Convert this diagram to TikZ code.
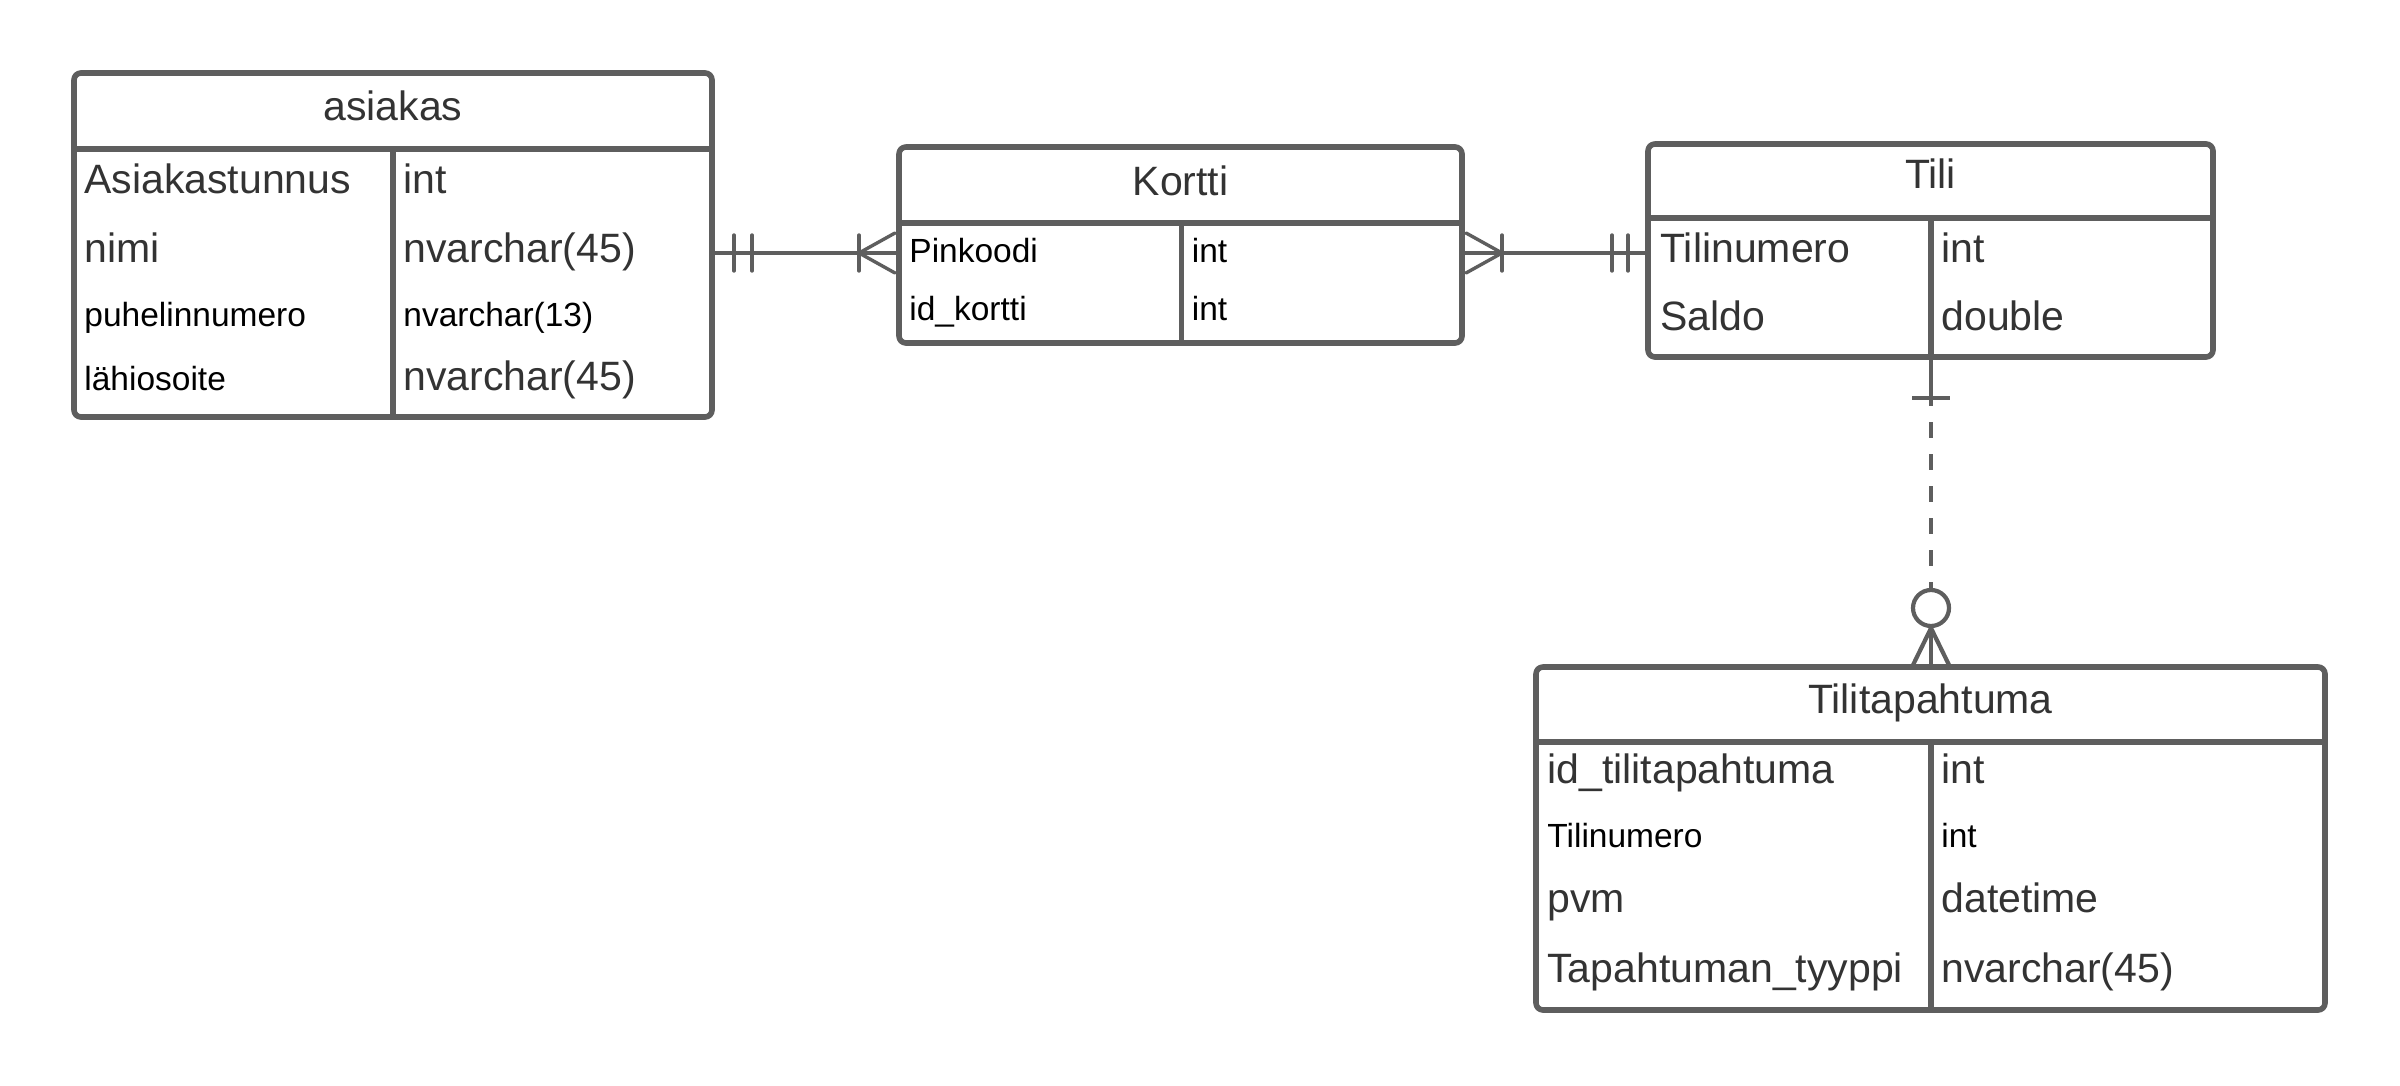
\documentclass[tikz,border=0pt]{standalone}
\usepackage{fontspec}
\setmainfont{Liberation Sans}
\definecolor{linec}{HTML}{5E5E5E}
\definecolor{txtc}{HTML}{333333}

\begin{document}
\begin{tikzpicture}[line cap=round,line join=round,x=0.5pt,y=-0.5pt,
  tbl/.style={draw=linec,line width=2.8pt,rounded corners=3.5pt},
  rule/.style={draw=linec,line width=2.8pt,line cap=butt},
  rel/.style={draw=linec,line width=1.7pt},
  relv/.style={draw=linec,line width=2.1pt},
  ring/.style={circle,draw=linec,line width=2.1pt,minimum size=18pt,inner sep=0pt},
  big/.style={text=txtc,font=\fontsize{20.5}{24}\selectfont,inner sep=0pt,anchor=base west},
  small/.style={text=black,font=\fontsize{16.75}{20}\selectfont,inner sep=0pt,anchor=base west},
  head/.style={big,anchor=base}]
\useasboundingbox (0,0) rectangle (2400,1086);

% asiakas
\begin{scope}[shift={(74,73)}]
\draw[tbl] (0,0) rectangle (638,344);
\draw[rule] (0,76)--(638,76);
\draw[rule] (319,76)--(319,344);
\node[head] (asiakasH) at (319,47) {asiakas};
\node[big] (a1) at (10,120) {Asiakastunnus};
\node[big] (a1t) at (329,120) {int};
\node[big] (a2) at (10,189) {nimi};
\node[big] (a2t) at (329,189) {nvarchar(45)};
\node[small] (a3) at (10,253) {puhelinnumero};
\node[small] (a3t) at (329,253) {nvarchar(13)};
\node[small] (a4) at (10,317) {lähiosoite};
\node[big] (a4t) at (329,317) {nvarchar(45)};
\coordinate (asiakas-e) at (638,180);
\end{scope}

% Kortti
\begin{scope}[shift={(899,147)}]
\draw[tbl] (0,0) rectangle (563,196);
\draw[rule] (0,76)--(563,76);
\draw[rule] (282.5,76)--(282.5,196);
\node[head] (korttiH) at (281.5,48) {Kortti};
\node[small] (k1) at (10,115) {Pinkoodi};
\node[small] (k1t) at (292.5,115) {int};
\node[small] (k2) at (10,173) {id\_kortti};
\node[small] (k2t) at (292.5,173) {int};
\coordinate (kortti-w) at (0,106);
\coordinate (kortti-e) at (563,106);
\end{scope}

% Tili
\begin{scope}[shift={(1648,144)}]
\draw[tbl] (0,0) rectangle (565,213);
\draw[rule] (0,74)--(565,74);
\draw[rule] (283,74)--(283,213);
\node[head] (tiliH) at (282.5,45) {Tili};
\node[big] (t1) at (12,118) {Tilinumero};
\node[big] (t1t) at (293,118) {int};
\node[big] (t2) at (12,186) {Saldo};
\node[big] (t2t) at (293,186) {double};
\coordinate (tili-w) at (0,109);
\coordinate (tili-s) at (283,213);
\end{scope}

% Tilitapahtuma
\begin{scope}[shift={(1536,667)}]
\draw[tbl] (0,0) rectangle (789,343);
\draw[rule] (0,75)--(789,75);
\draw[rule] (395,75)--(395,343);
\node[head] (tapH) at (394.5,46) {Tilitapahtuma};
\node[big] (p1) at (11,116) {id\_tilitapahtuma};
\node[big] (p1t) at (405,116) {int};
\node[small] (p2) at (11,180) {Tilinumero};
\node[small] (p2t) at (405,180) {int};
\node[big] (p3) at (11,245) {pvm};
\node[big] (p3t) at (405,245) {datetime};
\node[big] (p4) at (11,315) {Tapahtuman\_tyyppi};
\node[big] (p4t) at (405,315) {nvarchar(45)};
\coordinate (tap-n) at (395,0);
\end{scope}

% asiakas -- Kortti
\draw[rel] (asiakas-e) -- (kortti-w);
\begin{scope}[shift={(asiakas-e)}]
\draw[rel] (22,-18)--(22,18) (40,-18)--(40,18);
\end{scope}
\begin{scope}[shift={(kortti-w)}]
\draw[rel] (-40,-18)--(-40,18);
\draw[rel] (-4,-20)--(-40,0)--(-4,20);
\end{scope}

% Kortti -- Tili
\draw[rel] (kortti-e) -- (tili-w);
\begin{scope}[shift={(kortti-e)}]
\draw[rel] (40,-18)--(40,18);
\draw[rel] (4,-20)--(40,0)--(4,20);
\end{scope}
\begin{scope}[shift={(tili-w)}]
\draw[rel] (-36,-18)--(-36,18) (-20,-18)--(-20,18);
\end{scope}

% Tili -- Tilitapahtuma
\node[ring] (ring) at (1931,608) {};
\coordinate (tbar) at (1931,406);
\draw[relv,line cap=butt] (tili-s) -- (tbar);
\draw[relv,line cap=butt] (1912,398)--(1950,398);
\draw[relv,line cap=butt,dash pattern=on 8pt off 8pt,dash phase=8pt] (tbar) -- (ring.north);
\draw[relv,line cap=butt] (ring.south) -- (tap-n);
\draw[relv] (1913,665)--(ring.south)--(1949,665);
\end{tikzpicture}
\end{document}
